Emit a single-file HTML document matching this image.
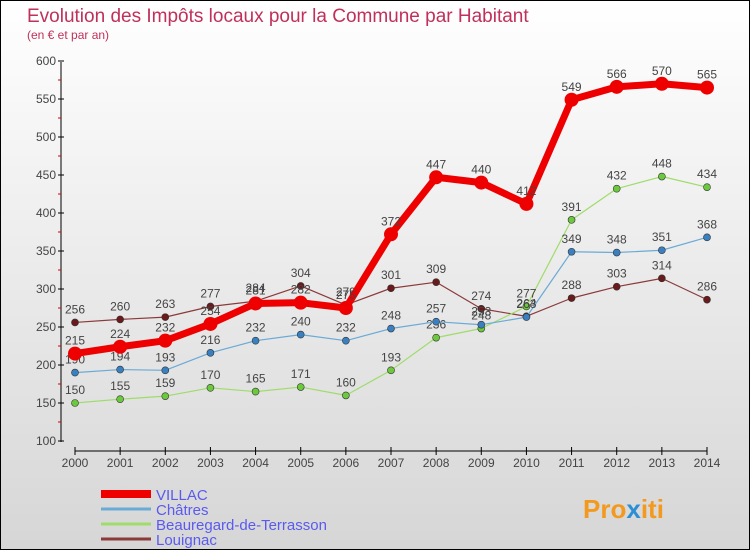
<!DOCTYPE html>
<html><head><meta charset="utf-8"><style>
body{margin:0}
#c{width:748px;height:548px;border:1px solid #000;background:linear-gradient(#fff,#d6d6d6);position:relative;font-family:"Liberation Sans","DejaVu Sans",sans-serif}
</style></head><body>
<div id="c">
<svg id="s" width="748" height="548" style="position:absolute;left:0;top:0">
<text x="26" y="21" font-size="19" fill="#c0305a">Evolution des Impôts locaux pour la Commune par Habitant</text>
<text x="26" y="38" font-size="12" fill="#c0305a">(en € et par an)</text>
<g id="ax"></g><g id="series"></g><g id="legend"></g>
<text x="582" y="517" font-size="26" font-weight="bold" fill="#f39a1e">Pro<tspan fill="#2c8fd6">x</tspan>iti</text>
</svg>
</div>
<script>
const years=[2000,2001,2002,2003,2004,2005,2006,2007,2008,2009,2010,2011,2012,2013,2014];
const yTicks=[100,150,200,250,300,350,400,450,500,550,600];
const villac=[215,224,232,254,281,282,275,372,447,440,412,549,566,570,565];
const chatres=[190,194,193,216,232,240,232,248,257,253,263,349,348,351,368];
const beauregard=[150,155,159,170,165,171,160,193,236,248,277,391,432,448,434];
const louignac=[256,260,263,277,284,304,279,301,309,274,264,288,303,314,286];
const NS='http://www.w3.org/2000/svg';
const X=i=>74+i*(706-74)/14, Y=v=>440-(v-100)*0.76;
function el(t,a,p){const e=document.createElementNS(NS,t);for(const k in a)e.setAttribute(k,a[k]);p.appendChild(e);return e;}
const ax=document.getElementById('ax');
let l=el('line',{x1:60,y1:61,x2:60,y2:441,stroke:'#000'},ax);

yTicks.forEach((v,i)=>{
 el('line',{x1:57,x2:63,y1:Y(v),y2:Y(v),stroke:'#000'},ax);
 if(i<yTicks.length-1)el('line',{x1:57,x2:60,y1:Y(v+25),y2:Y(v+25),stroke:'#d00'},ax);
 const t=el('text',{x:55,y:Y(v)+4,'font-size':12,fill:'#444','text-anchor':'end'},ax);t.textContent=v;
 
});
l=el('line',{x1:74,y1:450,x2:706,y2:450,stroke:'#000'},ax);

years.forEach((y,i)=>{
 el('line',{x1:X(i),x2:X(i),y1:446,y2:454,stroke:'#000'},ax);
 const t=el('text',{x:X(i),y:466,'font-size':12,fill:'#444','text-anchor':'middle'},ax);t.textContent=y;
 
});
const sg=document.getElementById('series');
const defs=[[louignac,'#8b3a3a','#6a1a1a',1.2,3.5,'louignac'],[beauregard,'#9fdc6a','#6cc83c',1.2,3.5,'beauregard'],[chatres,'#6aaad6','#3a80c0',1.2,3.5,'chatres'],[villac,'#ee0000','#ee0000',7,7,'villac']];
defs.forEach(([d,c,pc,w,r,n])=>{
 const p=el('polyline',{points:d.map((v,i)=>X(i)+','+Y(v)).join(' '),fill:'none',stroke:c,'stroke-width':w,'stroke-linejoin':'round'},sg);
 
 d.forEach((v,i)=>{
  const m=el('circle',{cx:X(i),cy:Y(v),r:r,fill:pc,stroke:n=='villac'?'none':'#333','stroke-width':0.6},sg);
  
  const t=el('text',{x:X(i),y:Y(v)-9,'font-size':12,fill:'#444','text-anchor':'middle'},sg);t.textContent=v;
  
 });
});
const lg=document.getElementById('legend');
[['VILLAC','#ee0000',8],['Châtres','#6aaad6',3],['Beauregard-de-Terrasson','#9fdc6a',3],['Louignac','#8b3a3a',3]].forEach(([n,c,w],i)=>{
 const y=493+i*15;
 const r=el('line',{x1:100,x2:150,y1:y,y2:y,stroke:c,'stroke-width':w},lg);
 
 const t=el('text',{x:155,y:y+6,'font-size':15,fill:'#5a5af0'},lg);t.textContent=n;
 
});
</script>
</body></html>
